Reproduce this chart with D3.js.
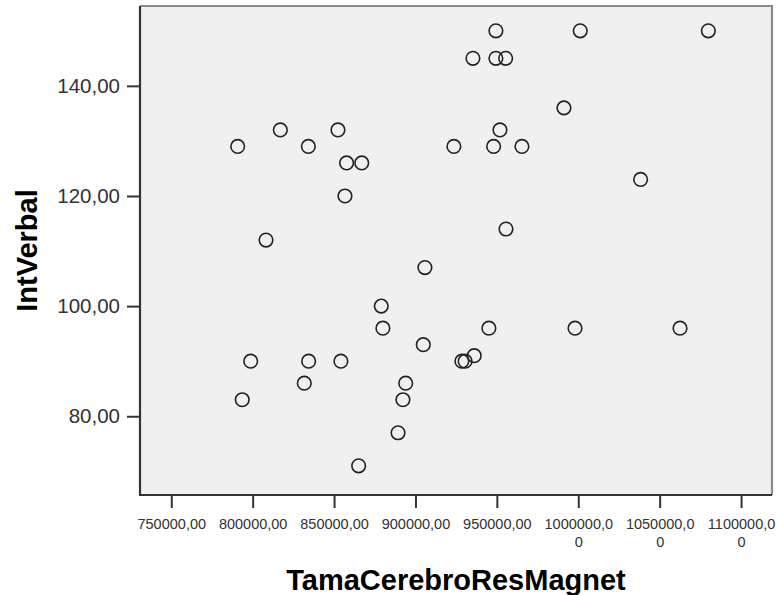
<!DOCTYPE html>
<html>
<head>
<meta charset="utf-8">
<script src="https://cdn.jsdelivr.net/npm/d3@7"></script>
<style>
  html, body { margin: 0; padding: 0; background: #ffffff; }
  svg { display: block; }
  text { font-family: "Liberation Sans", Arial, sans-serif; }
</style>
</head>
<body>
<svg id="chart" width="776" height="595"></svg>
<script>
// Data: TamaCerebroResMagnet (x) vs IntVerbal (y)
const brainSize = [
  949400, 1001200, 1079900,
  935300, 949400, 955400,
  991200,
  817000, 852400, 951900,
  790800, 834200, 923600, 948000, 965400,
  857700, 867000,
  1038300,
  856700,
  955600,
  808200,
  905800,
  879000,
  880000, 945100, 998000, 1062500,
  904800,
  936100,
  928500, 930500, 798800, 834400, 854200,
  831700, 894000,
  793600, 892300,
  889300,
  865100
];
const intVerbal = [
  150, 150, 150,
  145, 145, 145,
  136,
  132, 132, 132,
  129, 129, 129, 129, 129,
  126, 126,
  123,
  120,
  114,
  112,
  107,
  100,
  96, 96, 96, 96,
  93,
  91,
  90, 90, 90, 90, 90,
  86, 86,
  83, 83,
  77,
  71
];
const xTicks = [750000, 800000, 850000, 900000, 950000, 1000000, 1050000, 1100000];
const yTicks = [80, 100, 120, 140];
const xDomain = [730800, 1119000];
const yDomain = [65.7, 154.5];
const xTitle = "TamaCerebroResMagnet";
const yTitle = "IntVerbal";

const svg = d3.select("#chart");
const plot = { left: 140, right: 772, top: 6, bottom: 495 };

const x = d3.scaleLinear().domain(xDomain).range([plot.left, plot.right]);
const y = d3.scaleLinear().domain(yDomain).range([plot.bottom, plot.top]);

// Plot background
svg.append("rect")
  .attr("x", plot.left).attr("y", plot.top)
  .attr("width", plot.right - plot.left).attr("height", plot.bottom - plot.top)
  .attr("fill", "#f0f0f0");

// Top and right frame (lighter)
svg.append("path")
  .attr("d", `M${plot.left},${plot.top}H${plot.right}V${plot.bottom}`)
  .attr("fill", "none").attr("stroke", "#8c8c8c").attr("stroke-width", 2.2);

const fmt = v => d3.format(".2f")(v).replace(".", ",");

// Y axis
const yAxis = d3.axisLeft(y).tickValues(yTicks).tickSize(13).tickPadding(7).tickFormat(fmt);
const gy = svg.append("g").attr("transform", `translate(${plot.left},0)`).call(yAxis);
gy.select(".domain").remove();
gy.selectAll(".tick line").attr("stroke", "#333").attr("stroke-width", 2);
gy.selectAll(".tick text").attr("fill", "#333").attr("font-size", "20.5px")
  .attr("font-family", "Liberation Sans, Arial, sans-serif");

// X axis
const xAxis = d3.axisBottom(x).tickValues(xTicks).tickSize(13).tickPadding(11).tickFormat(() => "");
const gx = svg.append("g").attr("transform", `translate(0,${plot.bottom})`).call(xAxis);
gx.select(".domain").remove();
gx.selectAll(".tick line").attr("stroke", "#333").attr("stroke-width", 2);
gx.selectAll(".tick text").each(function(d) {
  const full = fmt(d);
  const t = d3.select(this).text(null)
    .attr("fill", "#333").attr("font-size", "14.5px")
    .attr("font-family", "Liberation Sans, Arial, sans-serif");
  if (full.length > 9) {
    t.append("tspan").attr("x", 0).attr("dy", "0.71em").text(full.slice(0, 9));
    t.append("tspan").attr("x", 0).attr("dy", "1.2em").text(full.slice(9));
  } else {
    t.append("tspan").attr("x", 0).attr("dy", "0.71em").text(full);
  }
});

// Left and bottom axis lines (dark)
svg.append("path")
  .attr("d", `M${plot.left},${plot.top}V${plot.bottom}H${plot.right}`)
  .attr("fill", "none").attr("stroke", "#333").attr("stroke-width", 2.2);

// Points
svg.append("g").selectAll("circle")
  .data(brainSize.map((v, i) => [v, intVerbal[i]]))
  .join("circle")
  .attr("cx", d => x(d[0]))
  .attr("cy", d => y(d[1]))
  .attr("r", 6.8)
  .attr("fill", "none")
  .attr("stroke", "#222")
  .attr("stroke-width", 1.6);

// Axis titles
svg.append("text")
  .attr("x", (plot.left + plot.right) / 2)
  .attr("y", 590)
  .attr("text-anchor", "middle")
  .attr("font-size", "29px").attr("font-weight", "bold").attr("fill", "#000")
  .text(xTitle);

svg.append("text")
  .attr("transform", `translate(37,${(188 + 313) / 2}) rotate(-90)`)
  .attr("text-anchor", "middle")
  .attr("font-size", "29px").attr("font-weight", "bold").attr("fill", "#000")
  .text(yTitle);
</script>
</body>
</html>
